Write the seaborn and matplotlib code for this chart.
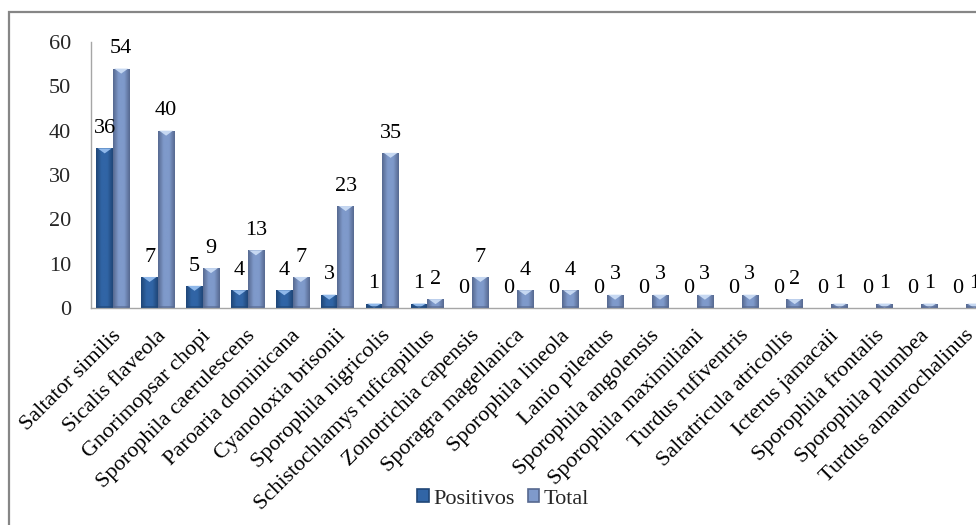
import numpy as np
import pandas as pd
import matplotlib
matplotlib.use("Agg")
import matplotlib.pyplot as plt
from matplotlib.patches import Rectangle, Polygon
from matplotlib.colors import LinearSegmentedColormap
from matplotlib.transforms import ScaledTranslation
import seaborn as sns

species = [
    "Saltator similis", "Sicalis flaveola", "Gnorimopsar chopi",
    "Sporophila caerulescens", "Paroaria dominicana", "Cyanoloxia brisonii",
    "Sporophila nigricolis", "Schistochlamys ruficapillus", "Zonotrichia capensis",
    "Sporagra magellanica", "Sporophila lineola", "Lanio pileatus",
    "Sporophila angolensis", "Sporophila maximiliani", "Turdus rufiventris",
    "Saltatricula atricollis", "Icterus jamacaii", "Sporophila frontalis",
    "Sporophila plumbea", "Turdus amaurochalinus",
]
positivos = [36, 7, 5, 4, 4, 3, 1, 1, 0, 0, 0, 0, 0, 0, 0, 0, 0, 0, 0, 0]
total = [54, 40, 9, 13, 7, 23, 35, 2, 7, 4, 4, 3, 3, 3, 3, 2, 1, 1, 1, 1]
series_names = ["Positivos", "Total"]
y_ticks = [0, 10, 20, 30, 40, 50, 60]

sns.set_theme(style="white")
plt.rcParams["font.family"] = ["Liberation Serif", "DejaVu Serif"]

df = pd.DataFrame({
    "especie": species * 2,
    "serie": [series_names[0]] * len(species) + [series_names[1]] * len(species),
    "valor": positivos + total,
})

base_colors = {"Positivos": "#3165a6", "Total": "#7f9acb"}
edge_colors = {"Positivos": "#1f4677", "Total": "#56688f"}
light_colors = {"Positivos": "#8fb8ea", "Total": "#c6d8f2"}

FS = 16
W, H = 976, 525
fig = plt.figure(figsize=(W / 100, H / 100), dpi=100)

# plot area runs off the right edge of the figure
ax_left, ax_right = 90.5 / W, 988.5 / W
ax_bottom, ax_top = 1 - 308 / H, 1 - 42 / H
ax = fig.add_axes([ax_left, ax_bottom, ax_right - ax_left, ax_top - ax_bottom])

sns.barplot(data=df, x="especie", y="valor", hue="serie", order=species,
            hue_order=series_names, palette=base_colors, width=0.735,
            gap=0, dodge=True, ax=ax, legend=False, errorbar=None,
            linewidth=0, saturation=1)

ax.set_ylim(0, 60)
ax.set_xlim(-0.5, len(species) - 0.5)

# shaded (bevelled) look for each bar, drawn from the bar's own geometry
px_per_unit = (308 - 42) / 60.0
for container, name in zip(ax.containers, series_names):
    cmap = LinearSegmentedColormap.from_list(
        name, [edge_colors[name], base_colors[name], base_colors[name],
               edge_colors[name]])
    grad = np.linspace(0, 1, 64)[None, :]
    for bar in container:
        x0, w, h = bar.get_x(), bar.get_width(), bar.get_height()
        if h <= 0:
            continue
        im = ax.imshow(grad, cmap=cmap, extent=(x0, x0 + w, 0, h),
                       aspect="auto", origin="lower", zorder=2,
                       interpolation="bicubic")
        im.set_clip_path(bar)
        tri_h = min(5.0 / px_per_unit, h)
        tri = Polygon([(x0 + w * 0.08, h), (x0 + w * 0.92, h),
                       (x0 + w / 2, h - tri_h)], closed=True,
                      facecolor=light_colors[name], edgecolor="none",
                      zorder=3)
        ax.add_patch(tri)
        bot_h = min(2.0 / px_per_unit, h)
        ax.add_patch(Rectangle((x0, 0), w, bot_h, facecolor=edge_colors[name],
                               edgecolor="none", zorder=3, alpha=0.6))

ax.set_xlim(-0.5, len(species) - 0.5)
ax.set_ylim(0, 60)

# value labels above every bar
for container in ax.containers:
    for bar in container:
        h = bar.get_height()
        ax.annotate(f"{h:.0f}", (bar.get_x() + bar.get_width() / 2, h),
                    xytext=(0, 11), textcoords="offset points",
                    ha="center", va="baseline", fontsize=FS, color="black",
                    zorder=5)

ax.set_yticks(y_ticks)
ax.set_yticklabels([str(t) for t in y_ticks], fontsize=FS)

# category names, rotated and hanging below the axis
ax.set_xticks(range(len(species)))
ax.set_xticklabels([])
name_offset = ScaledTranslation(5 / 100, -25 / 100, fig.dpi_scale_trans)
for i, name in enumerate(species):
    ax.text(i, 0, name, transform=ax.get_xaxis_transform() + name_offset,
            rotation=45, ha="right", va="center", rotation_mode="anchor",
            fontsize=FS, color="black", clip_on=False)

ax.tick_params(axis="both", length=0)
ax.tick_params(axis="y", pad=14)
ax.set_xlabel("")
ax.set_ylabel("")
for side in ["top", "right"]:
    ax.spines[side].set_visible(False)
for side in ["left", "bottom"]:
    ax.spines[side].set_color("#a6a6a6")
    ax.spines[side].set_linewidth(1.0)
ax.grid(False)

# legend
handles = [Rectangle((0, 0), 1, 1, facecolor=base_colors[n],
                     edgecolor=edge_colors[n], linewidth=1.2)
           for n in series_names]
fig.legend(handles, series_names, loc="center",
           bbox_to_anchor=(503 / W, 1 - 499 / H), ncol=2, frameon=False,
           fontsize=FS, handlelength=0.5, handleheight=0.5,
           handletextpad=0.2, columnspacing=0.6)

# chart border
fig.patches.append(Rectangle((9 / W, -0.1), 1.2, 1 - 12 / H + 0.1,
                             transform=fig.transFigure, fill=False,
                             edgecolor="#868686", linewidth=1.6))

fig.savefig("out.png", dpi=100)
